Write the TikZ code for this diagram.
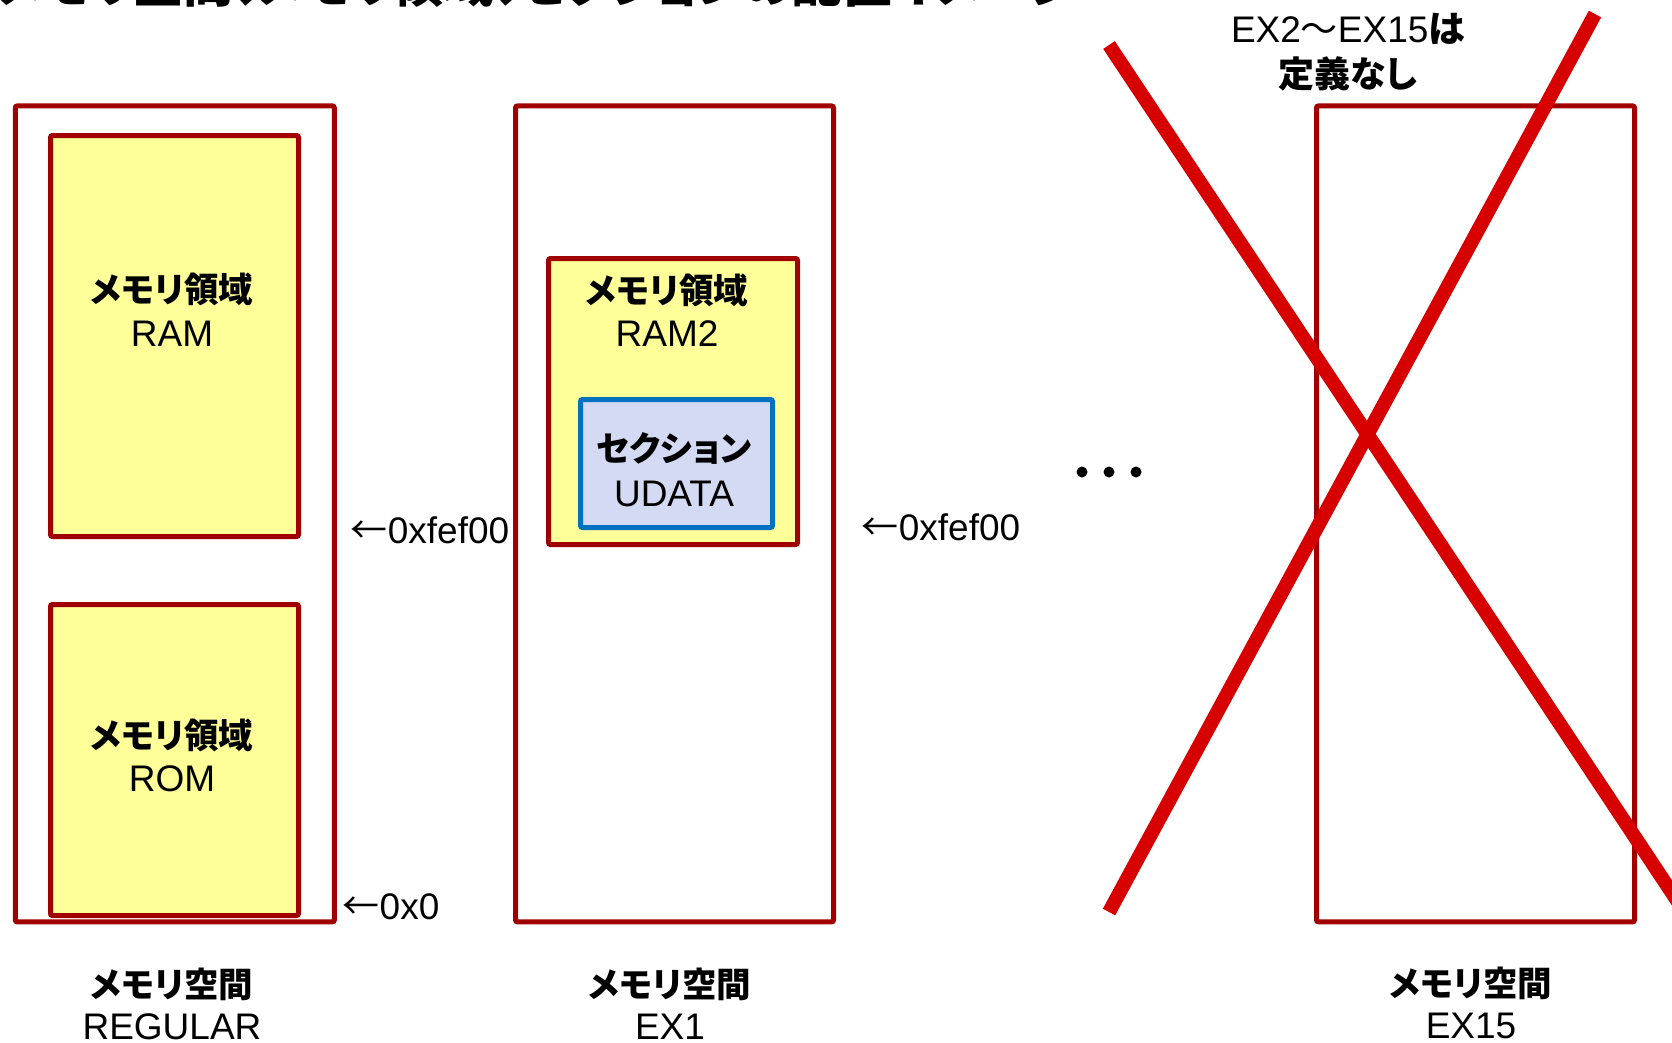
\documentclass[tikz,border=0pt]{standalone}
\usepackage{fontspec}
\setmainfont{Liberation Sans}
\newfontfamily\jp{Noto Sans CJK JP}[RawFeature=+palt]
\newfontfamily\jpw{Noto Sans CJK JP}
\definecolor{boxred}{HTML}{A00000}
\definecolor{xred}{HTML}{D60000}
\definecolor{fillyel}{HTML}{FFFF99}
\definecolor{ublue}{HTML}{0070C0}
\definecolor{ufill}{HTML}{D5DAF4}
\begin{document}
\begin{tikzpicture}[x=1pt,y=-1pt,
  spacebox/.style={draw=boxred, line width=5pt, rounded corners=2pt, anchor=north west, inner sep=0pt, fill=white},
  areabox/.style={spacebox, fill=fillyel},
  secbox/.style={draw=ublue, fill=ufill, line width=5pt, rounded corners=2pt, anchor=north west, inner sep=0pt},
  lat/.style={font=\fontsize{37}{44}\selectfont, inner sep=0pt},
  jpt/.style={font=\jp\bfseries\fontsize{34.5}{42}\selectfont, inner sep=0pt},
  dotmark/.style={circle, fill=black, minimum size=11pt, inner sep=0pt},
  xline/.style={draw=xred, line width=14pt}]
\useasboundingbox (0,0) rectangle (1672,1042);
\clip (0,0) rectangle (1672,1042);

% title (cut off at top)
\node[anchor=base west, inner sep=0pt, font=\jp\bfseries\fontsize{50}{58}\selectfont] (title) at (-2,2) {メモリ空間、メモリ領域、セクションの配置イメージ};

% REGULAR
\node[spacebox, minimum width=319pt, minimum height=816pt] (reg) at (12.8,103.4) {};
\node[areabox, minimum width=248pt, minimum height=401pt] (ram) at (48,133) {};
\node[areabox, minimum width=248pt, minimum height=311pt] (rom) at (48,602) {};
\node[jpt] (ramj) at (172,289) {メモリ領域};
\node[lat] (ramn) at (172,334) {RAM};
\node[jpt] (romj) at (172,735) {メモリ領域};
\node[lat] (romn) at (172,779) {ROM};
\node[lat] (a1) at (430,530) {{\jpw ←}0xfef00};
\node[lat] (a0) at (391,907) {{\jpw ←}0x0};
\node[jpt] (regj) at (172,984) {メモリ空間};
\node[lat] (regn) at (172,1027) {REGULAR};

% EX1
\node[spacebox, minimum width=318pt, minimum height=816pt] (ex1) at (513,103.4) {};
\node[areabox, minimum width=249pt, minimum height=286pt] (ram2) at (546,256) {};
\node[secbox, minimum width=192pt, minimum height=128pt] (udata) at (578,397) {};
\node[jpt] (ram2j) at (667,290) {メモリ領域};
\node[lat] (ram2n) at (667,334) {RAM2};
\node[jpt] (udj) at (674,448) {セクション};
\node[lat] (udn) at (674,494) {UDATA};
\node[lat] (a2) at (941,527) {{\jpw ←}0xfef00};
\node[jpt] (ex1j) at (670,984) {メモリ空間};
\node[lat] (ex1n) at (670,1027) {EX1};

% dots
\node[dotmark] (d1) at (1082,472) {};
\node[dotmark] (d2) at (1109,472) {};
\node[dotmark] (d3) at (1136,472) {};

% EX15
\node[spacebox, minimum width=318pt, minimum height=816pt] (ex15) at (1314,103.4) {};
\node[jpt] (ex15j) at (1471,983) {メモリ空間};
\node[lat] (ex15n) at (1471,1026) {EX15};

\node[lat] (nd1) at (1348,29) {EX2{\jp 〜}EX15{\jp\bfseries は}};
\node[jpt, font=\jp\bfseries\fontsize{36}{44}\selectfont] (nd2) at (1348,74) {定義なし};

% red X
\coordinate (x1a) at (1109,45);
\coordinate (x1b) at (1690,920);
\coordinate (x2a) at (1595,14);
\coordinate (x2b) at (1109,912);
\draw[xline] (x1a) -- (x1b);
\draw[xline] (x2a) -- (x2b);
\end{tikzpicture}
\end{document}
